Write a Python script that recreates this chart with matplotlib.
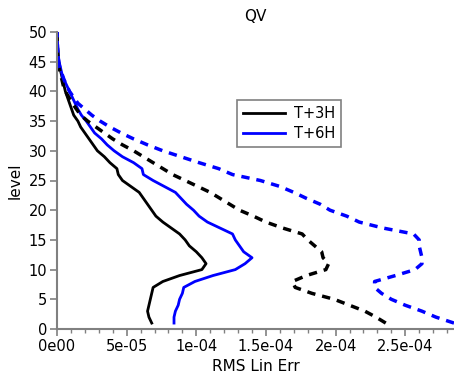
import numpy as np
import matplotlib
matplotlib.use("Agg")
import matplotlib.pyplot as plt
from matplotlib.ticker import MultipleLocator

# model levels 1..50
levels = np.arange(1, 51)

# RMS linearisation error (units of 1e-5)
t3h_solid = [6.8, 6.6, 6.5, 6.6, 6.7, 6.8, 6.9, 7.6, 8.8, 10.4,
             10.7, 10.4, 10.0, 9.5, 9.2, 8.8, 8.2, 7.6, 7.1, 6.8,
             6.5, 6.2, 5.9, 5.3, 4.7, 4.4, 4.3, 3.8, 3.4, 2.9,
             2.6, 2.3, 2.0, 1.7, 1.5, 1.2, 1.05, 0.9, 0.75, 0.6,
             0.5, 0.4, 0.3, 0.2, 0.12, 0.08, 0.05, 0.03, 0.02, 0.01]
t6h_solid = [8.4, 8.4, 8.5, 8.7, 8.8, 9.0, 9.1, 9.9, 11.2, 12.8,
             13.5, 14.0, 13.4, 13.1, 12.8, 12.6, 11.7, 10.8, 10.2, 9.8,
             9.3, 8.9, 8.5, 7.7, 6.9, 6.2, 6.1, 5.5, 4.7, 4.1,
             3.6, 3.2, 2.7, 2.4, 2.1, 1.75, 1.5, 1.3, 1.1, 0.9,
             0.7, 0.5, 0.35, 0.25, 0.15, 0.1, 0.06, 0.04, 0.02, 0.01]
t3h_dashed = [23.6, 22.9, 22.1, 21.0, 19.9, 18.3, 17.1, 16.9, 17.9, 19.3,
              19.5, 19.1, 19.0, 18.5, 18.0, 17.6, 16.2, 15.0, 14.1, 13.1,
              12.4, 11.7, 11.0, 10.1, 9.2, 8.3, 7.6, 6.9, 6.2, 5.5,
              4.7, 4.0, 3.4, 2.8, 2.2, 1.7, 1.4, 1.1, 0.85, 0.6,
              0.45, 0.35, 0.25, 0.15, 0.1, 0.06, 0.04, 0.02, 0.01, 0.01]
t6h_dashed = [28.5, 27.2, 26.2, 25.0, 24.0, 23.3, 22.8, 22.8, 24.3, 25.7,
              26.2, 26.2, 26.1, 26.0, 26.0, 25.6, 23.4, 21.7, 20.8, 19.6,
              18.9, 17.9, 17.0, 16.0, 14.6, 12.6, 11.6, 10.2, 8.9, 7.6,
              6.5, 5.5, 4.6, 3.8, 3.1, 2.5, 2.0, 1.5, 1.2, 0.9,
              0.7, 0.5, 0.35, 0.2, 0.12, 0.08, 0.05, 0.03, 0.02, 0.01]

x_ticks = [0, 5e-5, 1e-4, 1.5e-4, 2e-4, 2.5e-4]
x_tick_labels = ["0e00", "5e-05", "1e-04", "1.5e-04", "2e-04", "2.5e-04"]
y_ticks = [0, 5, 10, 15, 20, 25, 30, 35, 40, 45, 50]

scale = 1e-5
spine_grey = "#808080"

fig = plt.figure(figsize=(4.54, 3.77), dpi=100)
ax = fig.add_axes([57 / 454, 48 / 377, 397 / 454, 297 / 377])

ax.plot(np.array(t3h_solid) * scale, levels, color="black", lw=2, label="T+3H")
ax.plot(np.array(t6h_solid) * scale, levels, color="blue", lw=2, label="T+6H")
ax.plot(np.array(t3h_dashed) * scale, levels, color="black", lw=2.5,
        dashes=(2.4, 2.0))
ax.plot(np.array(t6h_dashed) * scale, levels, color="blue", lw=2.5,
        dashes=(2.4, 2.0))

ax.set_xlim(0, 2.85e-4)
ax.set_ylim(0, 50)
ax.set_xticks(x_ticks)
ax.set_xticklabels(x_tick_labels)
ax.set_yticks(y_ticks)
ax.xaxis.set_minor_locator(MultipleLocator(1e-5))

for side in ("top", "right"):
    ax.spines[side].set_visible(False)
for side in ("left", "bottom"):
    ax.spines[side].set_color(spine_grey)
    ax.spines[side].set_linewidth(1.5)

ax.tick_params(axis="both", which="major", direction="out", length=5,
               width=1.2, color=spine_grey, labelsize=10.5, pad=2)
ax.tick_params(axis="x", which="minor", direction="out", length=3,
               width=1.0, color=spine_grey)

ax.set_xlabel("RMS Lin Err", fontsize=11, labelpad=4)
ax.set_ylabel("level", fontsize=11, labelpad=4)
ax.set_title("QV", fontsize=11, pad=8)

leg = ax.legend(loc="upper left", bbox_to_anchor=(0.453, 0.771),
                fancybox=False, edgecolor=spine_grey, framealpha=1,
                fontsize=10.5, handlelength=2.9, borderpad=0.4,
                labelspacing=0.35, handletextpad=0.6, borderaxespad=0)
leg.get_frame().set_linewidth(1.2)

fig.savefig("out.png", dpi=100)
